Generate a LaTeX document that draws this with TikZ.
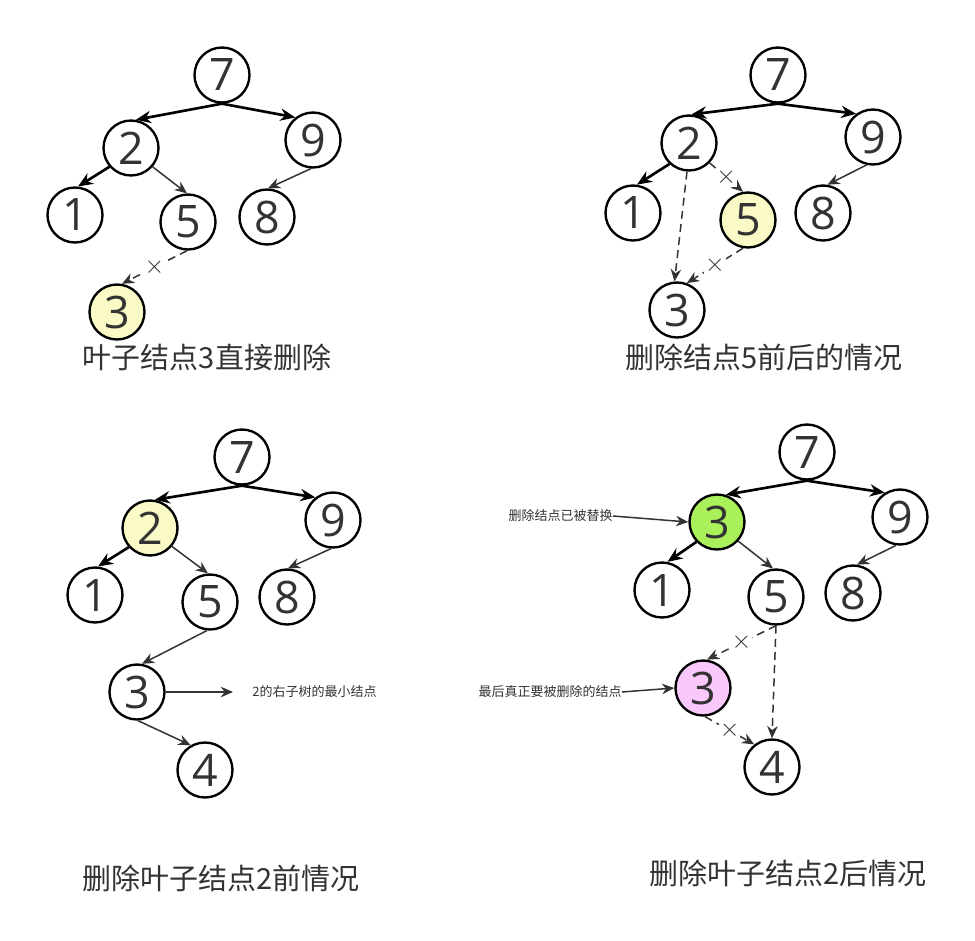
\documentclass[tikz,border=0pt]{standalone}
\usepackage{fontspec}
\setmainfont{Open Sans}
\newfontfamily\cjk{Noto Sans CJK SC}
\usetikzlibrary{arrows.meta}
\definecolor{testo}{HTML}{333333}
\definecolor{giallo}{RGB}{250,250,198}
\definecolor{verde}{RGB}{170,240,90}
\definecolor{rosa}{RGB}{250,200,250}

\begin{document}
\begin{tikzpicture}[x=0.02cm, y=-0.02cm,
    nodo/.style={circle, draw, line width=1.35pt, minimum size=1.1cm, inner sep=0pt, text=testo, font=\fontsize{25.5}{25.5}\selectfont},
    spesso/.style={-{Stealth[length=8.5pt,width=7pt]}, line width=1.5pt},
    sottile/.style={-{Stealth[length=7pt,width=6pt]}, line width=0.85pt, draw=testo},
    tratto/.style={sottile, dash pattern=on 4.5pt off 3pt},
    croce/.style={fill=white, inner sep=0.5pt, text=testo, font=\fontsize{14}{14}\selectfont},
    titolo/.style={text=testo, font=\cjk\fontsize{16.5}{16.5}\selectfont},
    nota/.style={text=testo, font=\cjk\fontsize{7.4}{7.4}\selectfont, inner sep=0pt}]
    \useasboundingbox (0,0) rectangle (975,941);

    % Primo albero: foglia 3
    \node[nodo] (a7) at (222,75) {7};
    \node[nodo] (a2) at (131,148) {2};
    \node[nodo] (a9) at (313,140) {9};
    \node[nodo] (a1) at (75,215) {1};
    \node[nodo] (a5) at (188,222) {5};
    \node[nodo] (a8) at (267,217) {8};
    \node[nodo, fill=giallo] (a3) at (117,312) {3};
    \draw[spesso] (a7.south) -- (a2.80);
    \draw[spesso] (a7.south) -- (a9.128);
    \draw[spesso] (a2.221) -- (a1.84);
    \draw[sottile] (a2.319) -- (a5.92);
    \draw[sottile] (a9.266) -- (a8.88);
    \draw[tratto] (a5.268) -- (a3.80) node[croce, midway] {$\times$};
    \node[titolo] (at) at (207,357) {叶子结点3直接删除};

    % Secondo albero: nodo 5
    \node[nodo] (b7) at (778,75) {7};
    \node[nodo] (b2) at (689,143) {2};
    \node[nodo] (b9) at (873,137) {9};
    \node[nodo] (b1) at (633,213) {1};
    \node[nodo, fill=giallo] (b5) at (748,220) {5};
    \node[nodo] (b8) at (823,213) {8};
    \node[nodo] (b3) at (677,310) {3};
    \draw[spesso] (b7.south) -- (b2.85);
    \draw[spesso] (b7.south) -- (b9.126);
    \draw[spesso] (b2.227) -- (b1.82);
    \draw[tratto] (b2.316) -- (b5.100) node[croce, midway] {$\times$};
    \draw[sottile] (b9.257) -- (b8.81);
    \draw[tratto] (b2.266) -- (b3.95);
    \draw[tratto] (b5.260) -- (b3.70) node[croce, midway] {$\times$};
    \node[titolo] (bt) at (764,357) {删除结点5前后的情况};

    % Terzo albero: prima
    \node[nodo] (c7) at (242,457) {7};
    \node[nodo, fill=giallo] (c2) at (150,528) {2};
    \node[nodo] (c9) at (333,520) {9};
    \node[nodo] (c1) at (95,595) {1};
    \node[nodo] (c5) at (210,602) {5};
    \node[nodo] (c8) at (287,597) {8};
    \node[nodo] (c3) at (137,692) {3};
    \node[nodo] (c4) at (205,770) {4};
    \node[nota, anchor=west] (cn) at (252,692) {2的右子树的最小结点};
    \draw[spesso] (c7.south) -- (c2.80);
    \draw[spesso] (c7.south) -- (c9.128);
    \draw[spesso] (c2.222) -- (c1.84);
    \draw[sottile] (c2.320) -- (c5.94);
    \draw[sottile] (c9.266) -- (c8.88);
    \draw[sottile] (c5.264) -- (c3.80);
    \draw[sottile] (c3.272) -- (c4.120);
    \draw[sottile, shorten >=10.8pt] (c3.east) -- (cn.west);
    \node[titolo] (ct) at (221,878) {删除叶子结点2前情况};

    % Quarto albero: dopo
    \node[nodo] (d7) at (807,452) {7};
    \node[nodo, fill=verde] (d3) at (717,522) {3};
    \node[nodo] (d9) at (900,517) {9};
    \node[nodo] (d1) at (662,590) {1};
    \node[nodo] (d5) at (776,597) {5};
    \node[nodo] (d8) at (853,593) {8};
    \node[nodo, fill=rosa] (d3b) at (703,688) {3};
    \node[nodo] (d4) at (772,767) {4};
    \node[nota, anchor=east] (dn1) at (613,516) {删除结点已被替换};
    \node[nota, anchor=east] (dn2) at (622,692) {最后真正要被删除的结点};
    \draw[spesso] (d7.south) -- (d3.72);
    \draw[spesso] (d7.south) -- (d9.122);
    \draw[spesso] (d3.224) -- (d1.79);
    \draw[sottile] (d3.318) -- (d5.96);
    \draw[sottile] (d9.262) -- (d8.82);
    \draw[tratto] (d5.270) -- (d3b.82) node[croce, midway] {$\times$};
    \draw[tratto] (d5.270) -- (d4.90);
    \draw[tratto] (d3b.274) -- (d4.128) node[croce, midway] {$\times$};
    \draw[sottile] (dn1.east) -- (d3.west);
    \draw[sottile] (dn2.east) -- (d3b.west);
    \node[titolo] (dt) at (788,873) {删除叶子结点2后情况};
\end{tikzpicture}
\end{document}
